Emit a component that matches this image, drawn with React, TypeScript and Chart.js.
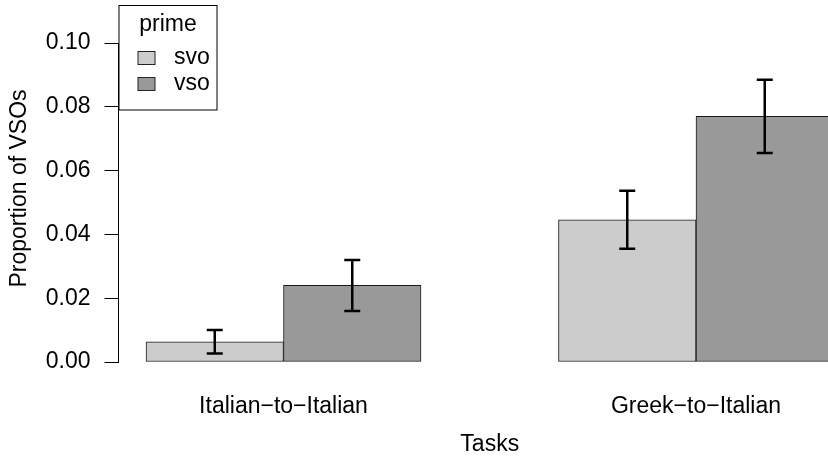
import React, { useEffect, useRef } from 'react';
import { Chart, registerables } from 'chart.js';

Chart.register(...registerables);

// ---- data ----
const categories = ['Italian−to−Italian', 'Greek−to−Italian'];
const primes = ['svo', 'vso'];
const svoValues = [0.0063, 0.0446];
const vsoValues = [0.024, 0.077];
const svoLower = [0.0027, 0.0355];
const svoUpper = [0.01, 0.0537];
const vsoLower = [0.016, 0.0655];
const vsoUpper = [0.032, 0.0885];
const yTickValues = [0, 0.02, 0.04, 0.06, 0.08, 0.1];
const legendTitle = 'prime';
const xTitle = 'Tasks';
const yTitle = 'Proportion of VSOs';
const barColors = ['#CCCCCC', '#999999'];

const seriesValues = [svoValues, vsoValues];
const seriesLower = [svoLower, vsoLower];
const seriesUpper = [svoUpper, vsoUpper];

// R barplot(beside=TRUE) layout: space 1 before each group, bars width 1
const nS = primes.length;
const barPos = (g: number, s: number) => 1 + g * (nS + 1) + s + 0.5;
const groupCenter = (g: number) => 1 + g * (nS + 1) + nS / 2;
const xLeft = 1;
const xRight = 1 + (categories.length - 1) * (nS + 1) + nS;
const xExt = (xRight - xLeft) * 0.04;

const FONT = 'Liberation Sans, Arial, Helvetica, sans-serif';
const FS = 23;

const W = 861;
const H = 457;

const extrasPlugin = {
  id: 'extras',
  afterDatasetsDraw(chart: any) {
    const ctx = chart.ctx;
    const xs = chart.scales.x;
    const ys = chart.scales.y;
    ctx.save();
    ctx.strokeStyle = '#000';
    ctx.lineWidth = 2.5;
    seriesValues.forEach((vals, s) => {
      vals.forEach((_, g) => {
        const x = xs.getPixelForValue(barPos(g, s));
        const y1 = ys.getPixelForValue(seriesLower[s][g]);
        const y2 = ys.getPixelForValue(seriesUpper[s][g]);
        const cap = 8;
        ctx.beginPath();
        ctx.moveTo(x, y1);
        ctx.lineTo(x, y2);
        ctx.moveTo(x - cap, y1);
        ctx.lineTo(x + cap, y1);
        ctx.moveTo(x - cap, y2);
        ctx.lineTo(x + cap, y2);
        ctx.stroke();
      });
    });
    ctx.restore();
  },
  afterDraw(chart: any) {
    const ctx = chart.ctx;
    const area = chart.chartArea;
    ctx.save();
    // y axis title
    ctx.fillStyle = '#000';
    ctx.font = `${FS}px ${FONT}`;
    ctx.textAlign = 'center';
    ctx.textBaseline = 'middle';
    ctx.translate(20, 188.5);
    ctx.rotate(-Math.PI / 2);
    ctx.fillText(yTitle, 0, 0);
    ctx.restore();

    // legend box (R style, top-left)
    ctx.save();
    const bx = area.left + 0.5;
    const by = 5.5;
    const bw = 98;
    const bh = 104.5;
    ctx.fillStyle = '#fff';
    ctx.fillRect(bx, by, bw, bh);
    ctx.strokeStyle = '#000';
    ctx.lineWidth = 1;
    ctx.strokeRect(bx, by, bw, bh);
    ctx.fillStyle = '#000';
    ctx.font = `${FS}px ${FONT}`;
    ctx.textAlign = 'center';
    ctx.textBaseline = 'middle';
    ctx.fillText(legendTitle, bx + bw / 2, 25);
    primes.forEach((p, i) => {
      const cy = 58 + i * 26;
      ctx.fillStyle = barColors[i];
      ctx.fillRect(bx + 19, cy - 6.5, 17, 13);
      ctx.strokeStyle = '#222';
      ctx.strokeRect(bx + 19, cy - 6.5, 17, 13);
      ctx.fillStyle = '#000';
      ctx.textAlign = 'left';
      ctx.fillText(p, bx + 55, cy);
    });
    ctx.restore();
  },
};

export default function App() {
  const ref = useRef<HTMLCanvasElement>(null);
  useEffect(() => {
    if (!ref.current) return;
    const datasets = primes.map((p, s) => ({
      label: p,
      data: seriesValues[s].map((v, g) => ({ x: barPos(g, s), y: v })),
      backgroundColor: barColors[s],
      borderColor: '#1a1a1a',
      borderWidth: 1,
      borderSkipped: false,
      grouped: false,
      categoryPercentage: 1,
      barPercentage: 1,
    }));
    const chart = new Chart(ref.current, {
      type: 'bar',
      data: { datasets } as any,
      plugins: [extrasPlugin],
      options: {
        animation: false,
        responsive: false,
        devicePixelRatio: 1,
        layout: { padding: { top: 43, left: 0, right: 0, bottom: 0 } },
        plugins: { legend: { display: false }, tooltip: { enabled: false } },
        scales: {
          x: {
            type: 'linear',
            offset: false,
            min: xLeft - xExt,
            max: xRight + xExt,
            afterFit: (sc: any) => {
              sc.height = 95;
            },
            afterBuildTicks: (sc: any) => {
              sc.ticks = categories.map((_, g) => ({ value: groupCenter(g) }));
            },
            ticks: {
              autoSkip: false,
              maxRotation: 0,
              padding: 31,
              color: '#000',
              font: { family: FONT, size: FS },
              callback: (_v: any, i: number) => categories[i],
            },
            grid: { display: false, drawTicks: false, tickLength: 0 },
            border: { display: false },
            title: {
              display: true,
              text: xTitle,
              color: '#000',
              font: { family: FONT, size: FS, lineHeight: 1 },
              padding: { top: 0, bottom: 1 },
            },
          },
          y: {
            type: 'linear',
            min: yTickValues[0],
            max: yTickValues[yTickValues.length - 1],
            afterFit: (sc: any) => {
              sc.width = 118.5;
            },
            afterBuildTicks: (sc: any) => {
              sc.ticks = yTickValues.map((v) => ({ value: v }));
            },
            ticks: {
              padding: 14,
              color: '#000',
              font: { family: FONT, size: FS },
              callback: (v: any) => Number(v).toFixed(2),
            },
            grid: {
              display: true,
              drawOnChartArea: false,
              drawTicks: true,
              tickLength: 14,
              color: '#000',
              lineWidth: 1,
            },
            border: { display: true, color: '#000', width: 1 },
          },
        },
      } as any,
    });
    return () => chart.destroy();
  }, []);
  return (
    <div
      style={{
        position: 'fixed',
        left: 0,
        top: 0,
        width: 828,
        height: 457,
        overflow: 'hidden',
        background: '#fff',
      }}
    >
      <canvas
        ref={ref}
        width={W}
        height={H}
        style={{ display: 'block', width: W, height: H }}
      />
    </div>
  );
}
